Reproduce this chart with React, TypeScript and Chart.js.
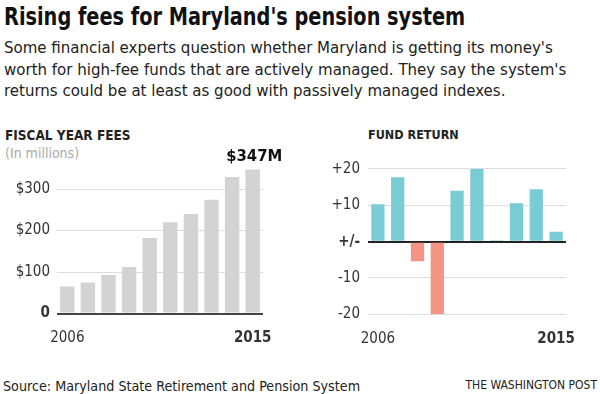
import React, { useEffect, useRef } from "react";
import { Chart, registerables } from "chart.js";

Chart.register(...registerables);

const FONT = '"Liberation Sans Narrow", "DejaVu Sans Condensed", "Roboto", sans-serif';

const years = ["2006", "2007", "2008", "2009", "2010", "2011", "2012", "2013", "2014", "2015"];
const fees = [65, 75, 93, 112, 182, 220, 240, 274, 329, 347];
const returns = [10.3, 17.7, -5.4, -20.0, 14.0, 20.0, 0.4, 10.6, 14.4, 2.7];
const feeTicks = [0, 100, 200, 300];
const feeTickLabels = ["0", "$100", "$200", "$300"];
const returnTicks = [-20, -10, 0, 10, 20];
const returnTickLabels = ["-20", "-10", "+/-", "+10", "+20"];
const lastFeeLabel = "$347M";

const GRAY_BAR = "#d3d3d3";
const TEAL = "#7accd4";
const SALMON = "#f39484";

const lastLabelPlugin = {
  id: "lastLabel",
  afterDatasetsDraw(chart: any) {
    const meta = chart.getDatasetMeta(0);
    const el = meta.data[meta.data.length - 1];
    if (!el) return;
    const ctx = chart.ctx;
    ctx.save();
    ctx.font = `bold 16.5px ${FONT}`;
    ctx.fillStyle = "#111";
    ctx.textAlign = "center";
    ctx.textBaseline = "middle";
    ctx.fillText(lastFeeLabel, el.x + 1.5, el.y - 13);
    ctx.restore();
  },
};

function tickFont(bold: boolean) {
  return { family: FONT, size: 15, weight: bold ? "bold" : "normal" } as any;
}

function zeroSidePadding(s: any) {
  s.paddingLeft = 0;
  s.paddingRight = 0;
}

export default function App() {
  const leftRef = useRef<HTMLCanvasElement>(null);
  const rightRef = useRef<HTMLCanvasElement>(null);

  useEffect(() => {
    const left = new Chart(leftRef.current as HTMLCanvasElement, {
      type: "bar",
      data: {
        labels: years,
        datasets: [
          {
            data: fees,
            backgroundColor: GRAY_BAR,
            barPercentage: 0.7,
            categoryPercentage: 1,
          },
        ],
      },
      options: {
        animation: false,
        responsive: false,
        maintainAspectRatio: false,
        layout: { padding: { top: 30, right: 27, left: 0, bottom: 0 } },
        plugins: { legend: { display: false }, tooltip: { enabled: false } },
        scales: {
          x: {
            grid: { display: false },
            border: { display: false },
            ticks: {
              autoSkip: false,
              maxRotation: 0,
              padding: 8,
              color: "#333",
              font: (c: any) => tickFont(c.index === years.length - 1),
              callback: (_v: any, i: number) =>
                i === 0 || i === years.length - 1 ? years[i] : "",
            },
            afterFit: (s: any) => {
              s.height = 36.5;
              zeroSidePadding(s);
            },
          },
          y: {
            min: 0,
            max: 370,
            afterBuildTicks: (s: any) => {
              s.ticks = feeTicks.map((v) => ({ value: v }));
            },
            grid: {
              drawTicks: false,
              color: (c: any) => (c.tick && c.tick.value === 0 ? "#444" : "#dddddd"),
              lineWidth: (c: any) => (c.tick && c.tick.value === 0 ? 2 : 1),
            },
            border: { display: false },
            ticks: {
              padding: 7,
              color: "#333",
              font: (c: any) => tickFont(c.tick && c.tick.value === 0),
              callback: (v: any) => feeTickLabels[feeTicks.indexOf(Number(v))] ?? "",
            },
            afterFit: (s: any) => {
              s.width = 57;
            },
          },
        },
      },
      plugins: [lastLabelPlugin],
    } as any);

    const right = new Chart(rightRef.current as HTMLCanvasElement, {
      type: "bar",
      data: {
        labels: years,
        datasets: [
          {
            data: returns,
            backgroundColor: returns.map((v) => (v >= 0 ? TEAL : SALMON)),
            barPercentage: 0.67,
            categoryPercentage: 1,
          },
        ],
      },
      options: {
        animation: false,
        responsive: false,
        maintainAspectRatio: false,
        layout: { padding: { top: 31, right: 14, left: 0, bottom: 0 } },
        plugins: { legend: { display: false }, tooltip: { enabled: false } },
        scales: {
          x: {
            grid: { display: false },
            border: { display: false },
            ticks: {
              autoSkip: false,
              maxRotation: 0,
              padding: 8,
              color: "#333",
              font: (c: any) => tickFont(c.index === years.length - 1),
              callback: (_v: any, i: number) =>
                i === 0 || i === years.length - 1 ? years[i] : "",
            },
            afterFit: (s: any) => {
              s.height = 35.7;
              zeroSidePadding(s);
            },
          },
          y: {
            min: -20,
            max: 22.2,
            afterBuildTicks: (s: any) => {
              s.ticks = returnTicks.map((v) => ({ value: v }));
            },
            grid: {
              drawTicks: false,
              color: (c: any) => (c.tick && c.tick.value === 0 ? "#222" : "#dddddd"),
              lineWidth: (c: any) => (c.tick && c.tick.value === 0 ? 2 : 1),
            },
            border: { display: false },
            ticks: {
              padding: 8,
              color: "#333",
              font: (c: any) => tickFont(c.tick && c.tick.value === 0),
              callback: (v: any) => returnTickLabels[returnTicks.indexOf(Number(v))] ?? "",
            },
            afterFit: (s: any) => {
              s.width = 68;
            },
          },
        },
      },
    } as any);

    return () => {
      left.destroy();
      right.destroy();
    };
  }, []);

  const abs = (o: React.CSSProperties): React.CSSProperties => ({
    position: "absolute",
    whiteSpace: "nowrap",
    fontFamily: FONT,
    margin: 0,
    ...o,
  });

  return (
    <div
      style={{
        position: "absolute",
        left: 0,
        top: 0,
        width: 600,
        height: 394,
        background: "#fff",
        overflow: "hidden",
        fontFamily: FONT,
      }}
    >
      <div
        style={abs({
          left: 4,
          top: 2,
          fontSize: 24,
          lineHeight: "30px",
          fontWeight: "bold",
          color: "#111",
          transform: "scaleX(0.895)",
          transformOrigin: "left center",
        })}
      >
        Rising fees for Maryland's pension system
      </div>
      <div style={abs({ left: 4, top: 37, fontSize: 16.7, lineHeight: "21.5px", color: "#222" })}>
        <div>Some financial experts question whether Maryland is getting its money's</div>
        <div>worth for high-fee funds that are actively managed. They say the system's</div>
        <div>returns could be at least as good with passively managed indexes.</div>
      </div>
      <div style={abs({ left: 5, top: 127, fontSize: 13.5, lineHeight: "16px", fontWeight: "bold", color: "#222" })}>
        FISCAL YEAR FEES
      </div>
      <div style={abs({ left: 5, top: 144, fontSize: 14, lineHeight: "18px", color: "#aaa" })}>
        (In millions)
      </div>
      <div style={abs({ left: 368, top: 127, fontSize: 12.5, lineHeight: "16px", fontWeight: "bold", color: "#222" })}>
        FUND RETURN
      </div>
      <canvas
        ref={leftRef}
        width={290}
        height={220}
        style={{ position: "absolute", left: 0, top: 130, width: 290, height: 220 }}
      />
      <canvas
        ref={rightRef}
        width={280}
        height={220}
        style={{ position: "absolute", left: 300, top: 130, width: 280, height: 220 }}
      />
      <div style={abs({ left: 3, top: 376, fontSize: 14.2, lineHeight: "20px", color: "#222" })}>
        Source: Maryland State Retirement and Pension System
      </div>
      <div style={abs({ right: 3, top: 376, fontSize: 12, lineHeight: "18px", color: "#222" })}>
        THE WASHINGTON POST
      </div>
    </div>
  );
}
